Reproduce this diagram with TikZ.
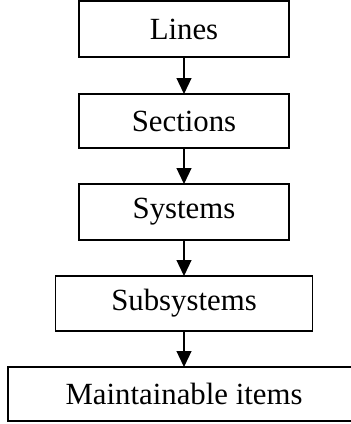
\documentclass[tikz,border=0pt]{standalone}
\usepackage{fontspec}
\setmainfont{Liberation Serif}
\usetikzlibrary{arrows.meta}
\begin{document}
\begin{tikzpicture}[x=0.5pt,y=-0.5pt,
  box/.style={draw, line width=0.65pt, inner sep=0pt, outer sep=0pt,
    font=\fontsize{15.4pt}{18pt}\selectfont, anchor=center},
  link/.style={line width=0.6pt, -{Triangle[width=7.5pt,length=8pt]}}]
\useasboundingbox (0,0) rectangle (351,424);
\clip (0,0) rectangle (351,424);
\node[box, minimum width=105pt, minimum height=28pt] (lines) at (184,29) {Lines};
\node[box, minimum width=105pt, minimum height=27pt] (sections) at (184,121) {Sections};
\node[box, minimum width=105pt, minimum height=28pt] (systems) at (184,212) {Systems};
\node[box, minimum width=128.5pt, minimum height=27.5pt] (subsystems) at (184,303.5) {Subsystems};
\node[box, minimum width=176pt, minimum height=27pt] (items) at (184,394) {Maintainable items};
\draw[link] (lines.south) -- (sections.north);
\draw[link] (sections.south) -- (systems.north);
\draw[link] (systems.south) -- (subsystems.north);
\draw[link] (subsystems.south) -- (items.north);
\end{tikzpicture}
\end{document}
